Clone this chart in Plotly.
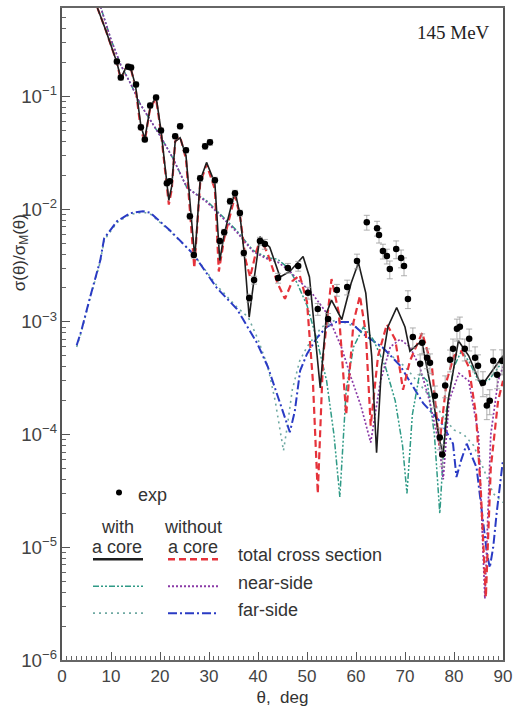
import plotly.graph_objects as go

# ---------------- data ----------------
exp_theta = [11.2,12.0,13.5,14.1,15.1,16.1,16.9,18.0,19.2,20.2,21.4,22.0,23.1,24.1,25.3,
             26.1,26.9,28.2,29.2,30.2,31.2,32.2,33.1,34.3,35.3,36.3,37.1,38.2,39.2,40.4,
             41.4,44.1,46.1,48.2,50.2,52.2,54.3,56.1,58.2,60.2,62.2,64.3,64.7,65.5,66.3,
             66.9,68.2,69.2,69.8,70.6,71.6,73.1,73.5,74.5,75.1,76.1,77.1,77.6,78.2,79.2,
             79.8,80.6,81.2,82.2,83.1,84.3,84.9,85.9,86.7,87.3,88.0,88.8,89.8]
exp_sigma = [0.204,0.147,0.184,0.181,0.128,0.0532,0.0416,0.0832,0.098,0.050,0.0170,0.0177,0.0443,0.0543,0.0333,
             0.00867,0.00392,0.0188,0.0361,0.0392,0.0181,0.00521,0.00625,0.01178,0.01387,0.00923,0.00408,0.00163,0.00235,0.00521,
             0.00490,0.00245,0.00300,0.00313,0.00181,0.00130,0.00106,0.00192,0.00204,0.00347,0.00767,0.00679,0.00589,0.00425,0.00384,
             0.00294,0.00443,0.00368,0.00313,0.00160,0.000736,0.000425,0.000652,0.000480,0.000433,0.000221,0.0000940,0.0000665,0.000272,0.000461,
             0.000577,0.000867,0.000904,0.000577,0.000708,0.000480,0.000408,0.000289,0.000181,0.000200,0.000452,0.000340,0.000452]
exp_relerr = [0.05,0.05,0.05,0.05,0.05,0.05,0.05,0.05,0.05,0.05,0.05,0.05,0.05,0.05,0.05,
              0.06,0.06,0.06,0.06,0.06,0.06,0.06,0.06,0.06,0.06,0.06,0.06,0.08,0.08,0.08,
              0.10,0.10,0.10,0.10,0.12,0.12,0.12,0.12,0.15,0.15,0.15,0.15,0.15,0.15,0.15,
              0.18,0.18,0.18,0.18,0.18,0.20,0.20,0.20,0.20,0.20,0.22,0.22,0.22,0.22,0.22,
              0.22,0.22,0.22,0.22,0.22,0.25,0.25,0.25,0.25,0.25,0.25,0.25,0.25]

# total, with a core
tot_c_theta = [6.0,7.3,9.0,10.5,11.2,12.0,13.3,14.0,15.0,16.1,16.9,18.0,19.2,20.2,21.8,
               22.4,23.1,24.1,25.3,27.1,28.2,29.5,31.2,32.2,33.1,35.3,36.3,37.2,38.2,39.2,
               40.4,41.5,42.4,44.5,46.5,49.2,50.5,51.3,52.7,54.0,55.0,57.1,59.0,60.5,62.0,
               63.2,64.2,65.2,66.5,68.3,70.0,71.0,73.4,75.8,77.0,77.8,78.8,80.9,83.0,85.6,
               87.5,89.7,90.0]
tot_c_sigma = [1.2,0.60,0.38,0.25,0.20,0.145,0.19,0.18,0.125,0.055,0.042,0.08,0.10,0.05,0.012,
               0.016,0.040,0.043,0.030,0.0037,0.018,0.026,0.017,0.0035,0.006,0.0145,0.009,0.004,0.0011,0.0024,
               0.0057,0.0050,0.0046,0.0025,0.0028,0.0038,0.0025,0.0011,0.00026,0.0012,0.00156,0.00105,0.0022,0.00335,0.0018,
               0.0005,0.000069,0.0004,0.0009,0.00134,0.0009,0.00055,0.00068,0.0002,0.00009,0.000068,0.0002,0.00068,0.0005,0.00027,
               0.00035,0.00048,0.0005]

# total, without a core
tot_n_theta = [6.0,7.3,9.0,10.5,11.2,12.0,13.3,14.0,15.0,16.1,16.9,18.0,19.2,20.2,21.8,
               22.4,23.1,24.1,25.3,27.0,28.2,29.5,31.2,32.0,33.1,35.3,36.3,37.5,38.4,39.5,
               40.5,42.0,44.0,45.5,47.0,48.5,50.0,51.2,52.2,53.3,55.0,56.5,58.0,59.5,60.8,
               62.0,63.0,64.5,66.3,68.0,69.6,71.0,73.5,75.5,77.0,78.5,80.0,81.5,83.0,84.5,
               85.5,86.5,87.5,89.0,90.0]
tot_n_sigma = [1.2,0.60,0.38,0.25,0.20,0.14,0.19,0.18,0.12,0.05,0.040,0.08,0.095,0.048,0.011,
               0.015,0.040,0.044,0.028,0.0030,0.017,0.025,0.015,0.0028,0.0055,0.013,0.009,0.0035,0.0025,0.0040,
               0.0055,0.0040,0.0022,0.0016,0.0023,0.0026,0.0015,0.0003,0.00003,0.0005,0.0024,0.0012,0.00015,0.0010,0.0017,
               0.0008,0.00012,0.0005,0.00095,0.0007,0.00025,0.00045,0.0008,0.0004,0.00008,0.0003,0.0005,0.00055,0.0004,0.00015,
               0.00003,0.0000036,0.00005,0.0002,0.0003]

# near-side, with a core
near_c_theta = [6,8,10,12,14,16,18,20,22.7,25.5,29.6,32.2,35.6,39,42,44,46.2,48,50,52,54,55.5,56.7,58,59.5,
                61.5,63.5,66,68,69.5,70.4,71.5,73,74.5,76,77.1,78.3,80,81.5,83,85,87,89,90]
near_c_sigma = [1.5,0.6,0.32,0.19,0.13,0.085,0.062,0.045,0.028,0.0155,0.0118,0.0091,0.0065,0.0043,0.0037,
                0.0036,0.0030,0.0022,0.0014,0.0007,0.0003,0.0001,0.000028,0.00025,0.0006,
                0.0009,0.0007,0.0004,0.0002,0.00008,0.00003,0.00015,0.00035,0.0003,0.0001,
                0.00002,0.00015,0.0004,0.00055,0.00045,0.0003,0.0003,0.0004,0.00045]

# near-side, without a core
near_n_theta = [6,8,10,12,14,16,18,20,22.7,25.5,29.6,32.2,35.6,39,42,44,46.2,48,51,54,57,59,61,63,65,
                67,69,71,73,75,77,77.8,79,81,83,85,86.3,87.5,89,90]
near_n_sigma = [1.5,0.6,0.32,0.19,0.13,0.085,0.062,0.045,0.028,0.0155,0.0115,0.0088,0.0063,0.0042,0.0036,
                0.0034,0.0029,0.0024,0.0018,0.0012,0.0006,0.00032,0.00018,0.000085,0.0003,
                0.0006,0.0007,0.0006,0.0004,0.0002,0.00008,0.00004,0.0002,0.00035,0.0003,
                0.0001,0.0000035,0.0001,0.0003,0.0004]

# far-side, with a core
far_c_theta = [3.0,4.0,5.7,7.8,8.6,11.2,13.9,16.5,18.0,22.0,26.8,31.6,35.7,38.0,40.0,42.0,43.5,44.5,45.2,46.0,
               47.0,48.5,50.0,53.0,56.0,60.0,65.0,70.0,75.0,78.0,80.0,82.0,84.0,86.0,88.0,90.0]
far_c_sigma = [6.0e-4,8.3e-4,1.6e-3,3.4e-3,5.3e-3,7.6e-3,9.0e-3,9.4e-3,9.1e-3,6.4e-3,4.0e-3,2.1e-3,1.35e-3,1.1e-3,7.0e-4,
               4.0e-4,2.0e-4,1.1e-4,7.2e-5,1.2e-4,2.5e-4,4.5e-4,6.0e-4,9.0e-4,1.05e-3,9.0e-4,6.0e-4,4.0e-4,2.2e-4,1.4e-4,
               1.1e-4,1.0e-4,8e-5,5e-5,3e-5,2.5e-5]

# far-side, without a core
far_n_theta = [3.0,4.0,5.7,7.8,8.6,11.2,13.9,16.5,18.0,22.0,26.8,31.6,35.7,39.8,42.0,44.0,45.5,46.5,47.5,48.6,
               50.0,52.0,54.0,56.0,58.8,61.5,65.5,69.0,73.7,77.5,79.8,80.5,81.5,82.6,84.6,85.8,86.7,87.3,88.0,88.7,
               89.7,90.0]
far_n_sigma = [6.2e-4,8.5e-4,1.64e-3,3.5e-3,5.5e-3,7.8e-3,9.2e-3,9.6e-3,9.3e-3,6.5e-3,4.0e-3,2.0e-3,1.3e-3,6.5e-4,4.0e-4,
               2.2e-4,1.4e-4,1.05e-4,1.6e-4,3.7e-4,5.2e-4,7.2e-4,9.0e-4,1.0e-3,1.0e-3,7.8e-4,5.9e-4,4.1e-4,1.9e-4,1.26e-4,
               8.3e-5,4.2e-5,6.0e-5,8.3e-5,5.1e-5,2.0e-5,9.0e-6,6.6e-6,1.0e-5,2.0e-5,5.1e-5,6.0e-5]

x_ticks = [0, 10, 20, 30, 40, 50, 60, 70, 80, 90]

# ---------------- styles ----------------
C_BLACK = "#1e1e1e"
C_RED = "#e5333b"
C_TEAL = "#2f9a86"
C_PURPLE = "#8a3aa6"
C_TEAL2 = "#6fa9a2"
C_BLUE = "#2a3bc4"
DASH_RED = "7px,4px"
DASH_NEAR_C = "6px,2px,2px,2px,2px,2px"
DASH_NEAR_N = "2px,2px"
DASH_FAR_C = "2px,4px"
DASH_FAR_N = "9px,3px,2px,3px"
FONT = "Liberation Sans, Arial, sans-serif"

fig = go.Figure()

fig.add_trace(go.Scatter(x=far_c_theta, y=far_c_sigma, mode="lines",
                         line=dict(color=C_TEAL2, width=1.6, dash=DASH_FAR_C)))
fig.add_trace(go.Scatter(x=far_n_theta, y=far_n_sigma, mode="lines",
                         line=dict(color=C_BLUE, width=2, dash=DASH_FAR_N)))
fig.add_trace(go.Scatter(x=near_c_theta, y=near_c_sigma, mode="lines",
                         line=dict(color=C_TEAL, width=1.5, dash=DASH_NEAR_C)))
fig.add_trace(go.Scatter(x=near_n_theta, y=near_n_sigma, mode="lines",
                         line=dict(color=C_PURPLE, width=1.7, dash=DASH_NEAR_N)))
fig.add_trace(go.Scatter(x=tot_n_theta, y=tot_n_sigma, mode="lines",
                         line=dict(color=C_RED, width=2.2, dash=DASH_RED)))
fig.add_trace(go.Scatter(x=tot_c_theta, y=tot_c_sigma, mode="lines",
                         line=dict(color=C_BLACK, width=1.6)))
fig.add_trace(go.Scatter(x=exp_theta, y=exp_sigma, mode="markers",
                         marker=dict(color="black", size=6.5),
                         error_y=dict(type="data", array=[v * r for v, r in zip(exp_sigma, exp_relerr)],
                                      color="#9a9a9a", thickness=0.8, width=3)))

# ---------------- hand-drawn legend (paper coords) ----------------
def px(xp):
    return (xp - 62) / 441.0

def py(yp):
    return (660 - yp) / 654.0

shapes = []
shapes.append(dict(type="circle", xref="paper", yref="paper",
                   x0=px(116), x1=px(122), y0=py(495), y1=py(489),
                   fillcolor="black", line=dict(color="black", width=0)))
legend_rows = [
    (559, C_BLACK, "solid", 2.6, C_RED, DASH_RED, 2.4),
    (586, C_TEAL, DASH_NEAR_C, 1.6, C_PURPLE, DASH_NEAR_N, 1.8),
    (613, C_TEAL2, DASH_FAR_C, 1.6, C_BLUE, DASH_FAR_N, 2.0),
]
for yy, c1, d1, w1, c2, d2, w2 in legend_rows:
    shapes.append(dict(type="line", xref="paper", yref="paper", x0=px(93), x1=px(143),
                       y0=py(yy), y1=py(yy), line=dict(color=c1, width=w1, dash=d1)))
    shapes.append(dict(type="line", xref="paper", yref="paper", x0=px(168), x1=px(218),
                       y0=py(yy), y1=py(yy), line=dict(color=c2, width=w2, dash=d2)))

tf = dict(family=FONT, size=18, color="#333333")
annotations = [
    dict(text="exp", x=px(136), y=py(494), xanchor="left", yanchor="middle"),
    dict(text="with", x=px(117), y=py(527), xanchor="center", yanchor="middle"),
    dict(text="a core", x=px(117), y=py(547), xanchor="center", yanchor="middle"),
    dict(text="without", x=px(193), y=py(527), xanchor="center", yanchor="middle"),
    dict(text="a core", x=px(193), y=py(547), xanchor="center", yanchor="middle"),
    dict(text="total cross section", x=px(236), y=py(555), xanchor="left", yanchor="middle"),
    dict(text="near-side", x=px(236), y=py(583), xanchor="left", yanchor="middle"),
    dict(text="far-side", x=px(236), y=py(610), xanchor="left", yanchor="middle"),
]
for a in annotations:
    a.update(xref="paper", yref="paper", showarrow=False, font=tf)

annotations.append(dict(text="145 MeV", x=px(453), y=py(31), xref="paper", yref="paper",
                        xanchor="center", yanchor="middle", showarrow=False,
                        font=dict(family="Liberation Serif, Times New Roman, serif", size=19, color="#222")))
annotations.append(dict(text="σ(θ)/σ<sub>M</sub>(θ)", x=px(21), y=py(252), xref="paper", yref="paper",
                        xanchor="center", yanchor="middle", showarrow=False, textangle=-90,
                        font=dict(family=FONT, size=17, color="#333")))

fig.update_layout(
    width=518, height=715,
    margin=dict(l=62, r=15, t=6, b=55),
    paper_bgcolor="white", plot_bgcolor="white",
    showlegend=False,
    shapes=shapes, annotations=annotations,
    font=dict(family=FONT, size=17, color="#444"),
)
fig.update_xaxes(
    range=[0, 90], tickvals=x_ticks, ticks="inside", ticklen=8, tickwidth=1.2, tickcolor="#555",
    showline=True, linecolor="#666", linewidth=2, mirror=True, showgrid=False, zeroline=False,
    tickfont=dict(family=FONT, size=17, color="#444"),
    minor=dict(dtick=1, ticks="inside", ticklen=4, tickcolor="#666", tickwidth=1, showgrid=False),
    title=dict(text="θ,  deg", font=dict(family=FONT, size=17, color="#333"), standoff=6),
)
fig.update_yaxes(
    type="log", range=[-6, -0.215], dtick=1, exponentformat="power", showexponent="all",
    ticks="inside", ticklen=8, tickwidth=1.2, tickcolor="#555",
    showline=True, linecolor="#555", linewidth=2, mirror=True, showgrid=False, zeroline=False,
    tickfont=dict(family=FONT, size=15, color="#444"),
    minor=dict(dtick="D1", ticks="inside", ticklen=4, tickcolor="#666", tickwidth=1, showgrid=False),
)

fig.write_html("out.html")
